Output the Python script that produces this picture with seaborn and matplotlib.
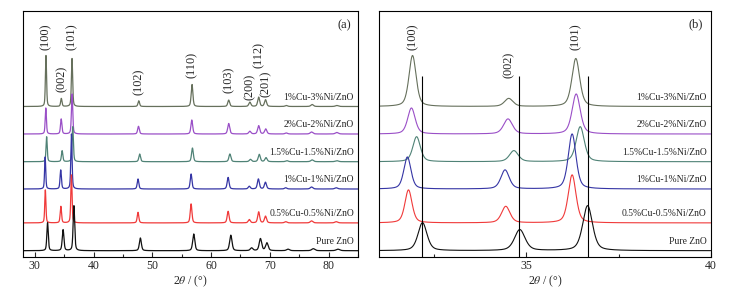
import numpy as np
import pandas as pd
import seaborn as sns
import matplotlib
matplotlib.use("Agg")
import matplotlib.pyplot as plt
from matplotlib.ticker import MultipleLocator

sns.set_style("ticks")
plt.rcParams["font.family"] = ["Liberation Serif", "DejaVu Serif"]
plt.rcParams["mathtext.fontset"] = "stix"

# samples, top trace first
samples = ["1%Cu-3%Ni/ZnO", "2%Cu-2%Ni/ZnO", "1.5%Cu-1.5%Ni/ZnO",
           "1%Cu-1%Ni/ZnO", "0.5%Cu-0.5%Ni/ZnO", "Pure ZnO"]
colors = ["#66705c", "#9a4fc7", "#4f8276", "#3535a5", "#f03a3a", "#111111"]
offsets = [150.5, 123, 95.3, 68, 34.1, 6.3]

hkl = ["(100)", "(002)", "(101)", "(102)", "(110)", "(103)",
       "(200)", "(112)", "(201)", "(004)", "(202)", "(104)"]

# peak positions (2theta, deg)
pos_13 = [31.91, 34.52, 36.34, 47.70, 56.76, 63.00, 66.60, 68.10, 69.27, 72.80, 77.20, 81.40]
pos_2 = [31.88, 34.50, 36.35, 47.65, 56.72, 63.00, 66.60, 68.10, 69.30, 72.80, 77.10, 81.40]
pos_15 = [32.02, 34.66, 36.46, 47.85, 56.83, 63.20, 66.70, 68.20, 69.35, 72.90, 77.20, 81.40]
pos_1 = [31.77, 34.42, 36.24, 47.57, 56.60, 62.90, 66.50, 68.05, 69.25, 72.70, 77.10, 81.30]
pos_05 = [31.80, 34.44, 36.24, 47.57, 56.60, 62.90, 66.50, 68.10, 69.26, 72.70, 77.10, 81.30]
pos_pure = [32.18, 34.82, 36.66, 47.97, 57.05, 63.36, 66.90, 68.40, 69.50, 73.10, 77.40, 81.60]

# peak heights (arb. units)
h_13 = [51, 8, 48, 5.7, 22, 6.4, 4.3, 9.3, 6.7, 1.0, 2.0, 1.0]
h_2 = [26, 15, 40, 7.7, 14, 10.5, 2.7, 8.3, 5.0, 1.0, 2.0, 1.5]
h_15 = [25, 11, 35, 7.7, 13.7, 7.7, 2.3, 7.3, 4.0, 1.0, 1.8, 1.0]
h_1 = [32, 19, 55, 10, 15, 11.6, 2.7, 10, 6.7, 1.2, 2.0, 1.2]
h_05 = [33, 16.5, 48, 10.6, 19, 11.6, 3.3, 11, 6.7, 1.2, 2.0, 1.2]
h_pure = [28, 21, 45, 12.7, 16.7, 15.5, 2.7, 12, 7.7, 1.5, 2.0, 1.5]

# peak widths (FWHM, deg)
fwhm = [0.23, 0.27, 0.25, 0.32, 0.34, 0.38, 0.42, 0.40, 0.42, 0.48, 0.52, 0.58]
fwhm_scale = [1.0, 1.05, 1.05, 1.0, 1.0, 1.25]

ref_lines = [32.18, 34.80, 36.67]
label_y_a = [207, 165, 207, 162, 179, 164, 157, 189, 160]
label_y_b = [207, 179, 207]

positions = [pos_13, pos_2, pos_15, pos_1, pos_05, pos_pure]
heights = [h_13, h_2, h_15, h_1, h_05, h_pure]


def pseudo_voigt(x, x0, h, w, eta=0.45):
    g = np.exp(-4 * np.log(2) * ((x - x0) / w) ** 2)
    l = 1 / (1 + 4 * ((x - x0) / w) ** 2)
    return h * (eta * l + (1 - eta) * g)


tt = np.arange(28, 85.001, 0.005)
rows = []
for name, pos, hh, sc, off in zip(samples, positions, heights, fwhm_scale, offsets):
    y = np.full_like(tt, off)
    for p, h, w in zip(pos, hh, fwhm):
        y += pseudo_voigt(tt, p, h, w * sc)
    rows.append(pd.DataFrame({"tt": tt, "I": y, "sample": name}))
df = pd.concat(rows, ignore_index=True)
pal = dict(zip(samples, colors))

fig = plt.figure(figsize=(7.47, 2.91), dpi=100)
ax_a = fig.add_axes([23 / 747, 34 / 291, 335 / 747, 246 / 291])
ax_b = fig.add_axes([379 / 747, 34 / 291, 331.7 / 747, 246 / 291])

for ax, xlim, sub, lw in [(ax_a, (28, 85), df, 0.9),
                          (ax_b, (31, 40), df[(df.tt >= 31) & (df.tt <= 40)], 0.8)]:
    sns.lineplot(data=sub, x="tt", y="I", hue="sample", hue_order=samples,
                 palette=pal, estimator=None, sort=False, lw=lw,
                 legend=False, ax=ax)
    ax.set_xlim(xlim)
    ax.set_ylim(0, 246)
    ax.set_yticks([])
    ax.set_ylabel("")
    ax.set_xlabel(r"2$\theta$ / (°)", fontsize=8.5, labelpad=1)
    ax.tick_params(axis="x", which="major", direction="in", length=3.5,
                   width=0.8, labelsize=8.5, pad=2)
    ax.tick_params(axis="x", which="minor", direction="in", length=2,
                   width=0.8)
    for s in ax.spines.values():
        s.set_linewidth(0.8)
        s.set_color("black")
    xr = xlim[1] - xlim[0]
    for name, off in zip(samples, offsets):
        ax.text(xlim[1] - 0.012 * xr, off + 9.5, name, ha="right",
                va="center", fontsize=6.9)

ax_a.xaxis.set_major_locator(MultipleLocator(10))
ax_a.xaxis.set_minor_locator(MultipleLocator(5))
ax_b.xaxis.set_major_locator(MultipleLocator(5))
ax_b.xaxis.set_minor_locator(MultipleLocator(2.5))

for lab, x, y in zip(hkl, pos_13, label_y_a):
    ax_a.text(x, y, lab, rotation=90, ha="center", va="bottom", fontsize=8.8)
for lab, x, y in zip(hkl, pos_13, label_y_b):
    ax_b.text(x, y, lab, rotation=90, ha="center", va="bottom", fontsize=8.8)

ax_b.vlines(ref_lines, 0, 181, color="black", lw=0.8)

ax_a.text(0.98, 0.94, "(a)", transform=ax_a.transAxes, ha="right",
          va="center", fontsize=9)
ax_b.text(0.975, 0.945, "(b)", transform=ax_b.transAxes, ha="right",
          va="center", fontsize=9)

fig.savefig("out.png", dpi=100)
